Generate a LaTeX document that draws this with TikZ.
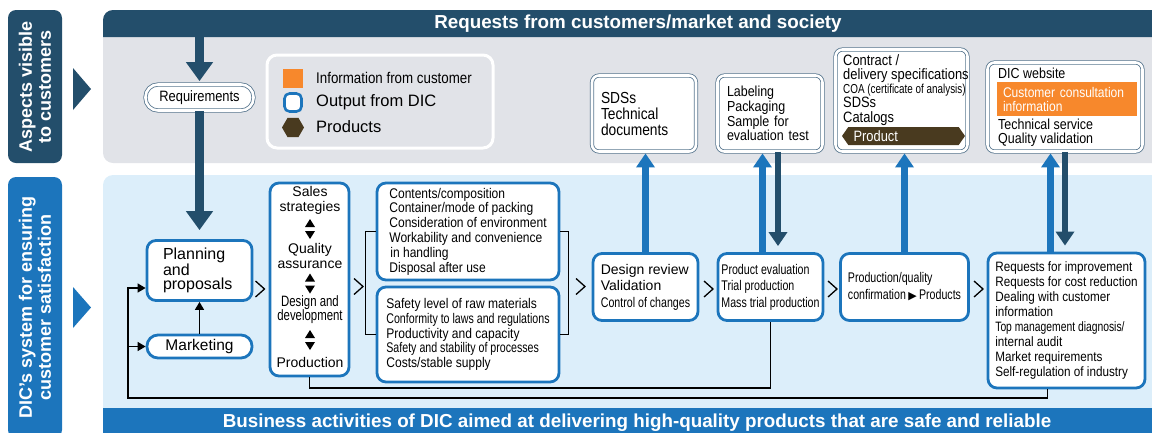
\documentclass[tikz,border=0pt]{standalone}
\usepackage{fontspec}
\setmainfont{Liberation Sans}
\newfontfamily\cond{Liberation Sans}[FakeStretch=0.86]
\newfontfamily\xcond{Liberation Sans}[FakeStretch=0.76]
\newfontfamily\symf{DejaVu Sans}
\usepackage{tikz}
\usetikzlibrary{arrows.meta,shapes.geometric,shapes.symbols}
\definecolor{navyc}{HTML}{234E6B}
\definecolor{mainc}{HTML}{1C75BC}
\definecolor{softbg}{HTML}{DCEEFA}
\definecolor{greybg}{HTML}{E1E3E8}
\definecolor{orangec}{HTML}{F7882C}
\definecolor{brownc}{HTML}{493A1F}
\definecolor{edgec}{HTML}{5A7890}
\tikzset{
  obox/.style={draw=mainc,line width=2.8pt,rounded corners=9pt,fill=white,inner sep=0pt,align=left},
  dblbox/.style={draw=edgec,line width=0.8pt,double=white,double distance=2.6pt,rounded corners=7pt,fill=white,inner sep=0pt,align=left},
  uparr/.style={-{Triangle[width=18pt,length=14pt]},line width=6.5pt,mainc,shorten >=1.5pt},
  dnarr/.style={-{Triangle[width=18pt,length=14pt]},line width=6.5pt,navyc,shorten >=6pt},
  bigarr/.style={-{Triangle[width=26pt,length=19pt]},line width=9pt,navyc},
  fbline/.style={line width=1.4pt,black},
  fbarr/.style={fbline,-{Triangle[width=9pt,length=8pt]}},
  chev/.style={line width=1.3pt,black},
  sidebox/.style={rounded corners=8pt,text=white,font=\bfseries\fontsize{18}{19}\selectfont,align=center,inner sep=0pt},
  lbl/.style={align=center,inner sep=0pt,font=\fontsize{14}{14.5}\selectfont}
}
\begin{document}
\begin{tikzpicture}[x=1pt,y=-1pt]
\useasboundingbox (0,0) rectangle (1152,432);
\fill[greybg,rounded corners=10pt] (103,10) rectangle (1170,163);
\fill[navyc] (103,37) [rounded corners=10pt] -- (103,10) -- (1170,10) [sharp corners] -- (1170,37) -- cycle;
\fill[softbg,rounded corners=10pt] (103,175) rectangle (1170,445);
\fill[mainc] (103,408) rectangle (1170,445);
\node[text=white,font=\bfseries\fontsize{18.8}{20}\selectfont] (hdtxt) at (638,24) {Requests from customers/market and society};
\node[text=white,anchor=base,font=\bfseries\fontsize{18.8}{20}\selectfont] (bottxt) at (637,427.5) {Business activities of DIC aimed at delivering high-quality products that are safe and reliable};

\node[sidebox,fill=navyc,minimum width=153,minimum height=54,rotate=90] (vis) at (35,86.5) {Aspects visible\\to customers};
\node[sidebox,fill=mainc,minimum width=261,minimum height=54,rotate=90] (sys) at (35,307.5) {DIC’s system for ensuring\\customer satisfaction};
\fill[navyc] (73,68) -- (91,89) -- (73,110) -- cycle;
\fill[mainc] (73,287) -- (91,307.5) -- (73,328) -- cycle;

\node[draw=white,line width=3pt,rounded corners=10pt,fill=greybg,minimum width=226,minimum height=93] (legend) at (380,101.5) {};
\node[fill=orangec,minimum width=20,minimum height=19,inner sep=0pt] (lgo) at (293,78.5) {};
\node[draw=mainc,line width=2.6pt,fill=white,rounded corners=5pt,minimum width=17,minimum height=18,inner sep=0pt] (lgb) at (293,102.5) {};
\node[regular polygon,regular polygon sides=6,fill=brownc,minimum size=22,inner sep=0pt] (lgh) at (293,127.5) {};
\node[anchor=west,inner sep=0pt,font=\cond\fontsize{15.5}{16}\selectfont] (lgot) at (316,77.5) {Information from customer};
\node[anchor=west,inner sep=0pt,font=\fontsize{16.5}{18}\selectfont] (lgbt) at (316,102) {Output from DIC};
\node[anchor=west,inner sep=0pt,font=\fontsize{16.5}{18}\selectfont] (lght) at (316,127) {Products};

\node[dblbox,rounded corners=12.5pt,minimum width=108,minimum height=26,align=center,font=\cond\fontsize{15}{16}\selectfont] (reqs) at (199.5,97.5) {Requirements};

\node[dblbox,minimum width=104,minimum height=76,text width=86,font=\cond\fontsize{16}{16}\selectfont] (sds) at (644,113.5) {SDSs\\Technical\\documents};
\node[dblbox,minimum width=105,minimum height=76,text width=86,font=\cond\fontsize{14.5}{14.7}\selectfont] (lab) at (770,113.5) {Labeling\\Packaging\\Sample for\\evaluation test};
\node[dblbox,minimum width=132,minimum height=102] (ctr) at (901.5,100.5) {};
\node[anchor=north west,inner sep=0pt,align=left,font=\cond\fontsize{15}{14.3}\selectfont] (ctrt) at (843,54) {Contract /\\delivery specifications\\{\xcond\fontsize{13}{14.3}\selectfont COA (certificate of analysis)}\\SDSs\\Catalogs};
\node[signal,signal to=west and east,signal pointer angle=110,fill=brownc,text=white,minimum width=123,minimum height=18,inner sep=0pt,text width=100,align=left,font=\cond\fontsize{15}{15}\selectfont] (prod) at (903.5,136) {Product};
\node[dblbox,minimum width=155,minimum height=89] (web) at (1065,107) {};
\node[anchor=base west,inner sep=0pt,font=\cond\fontsize{14.5}{15}\selectfont] (webt) at (998,78) {DIC website};
\node[fill=orangec,minimum width=140,minimum height=34,inner sep=0pt,text width=128,align=left,text=white,font=\cond\fontsize{14}{14}\selectfont] (consult) at (1067,99) {Customer consultation\\information};
\node[anchor=north west,inner sep=0pt,align=left,font=\cond\fontsize{14.5}{14}\selectfont] (webs) at (998,119) {Technical service\\Quality validation};

\node[obox,minimum width=105,minimum height=60,text width=73,font=\fontsize{16}{14}\selectfont] (plan) at (199.5,270.5) {Planning\\and\\proposals};
\node[obox,rounded corners=11pt,minimum width=105,minimum height=23,font=\fontsize{15.5}{16}\selectfont] (mkt) at (199.5,346.5) {Marketing};
\node[obox,minimum width=79,minimum height=193] (sales) at (309.5,279.5) {};
\node[lbl] (s1) at (310,200.5) {Sales\\strategies};
\node[lbl] (s2) at (310,256) {Quality\\assurance};
\node[lbl,font=\xcond\fontsize{15}{14}\selectfont] (s3) at (310,310) {Design and\\development};
\node[lbl] (s4) at (310,362) {Production};
\foreach \yy in {229,283.5,340}{
  \fill (310,\yy-2) -- ++(-5,0) -- ++(5,-8) -- ++(5,8) -- cycle;
  \fill (310,\yy+2) -- ++(-5,0) -- ++(5,8) -- ++(5,-8) -- cycle;
}
\node[obox,minimum width=182,minimum height=97,font=\cond\fontsize{14}{14.8}\selectfont] (cont) at (468,231.5) {Contents/composition\\Container/mode of packing\\Consideration of environment\\Workability and convenience\\\hspace{1pt}in handling\\Disposal after use};
\node[obox,minimum width=182,minimum height=95,font=\cond\fontsize{14}{14.8}\selectfont] (safe) at (468,334.5) {Safety level of raw materials\\{\xcond Conformity to laws and regulations}\\Productivity and capacity\\{\xcond Safety and stability of processes}\\Costs/stable supply};
\node[obox,minimum width=105,minimum height=67,font=\fontsize{14}{16.5}\selectfont] (drev) at (645.5,287) {Design review\\Validation\\{\xcond Control of changes}};
\node[obox,minimum width=105,minimum height=67,font=\xcond\fontsize{14}{16.5}\selectfont] (peval) at (770.5,287) {Product evaluation\\Trial production\\Mass trial production};
\node[obox,minimum width=128,minimum height=67,font=\xcond\fontsize{14}{17}\selectfont] (pconf) at (904.5,287) {Production/quality\\confirmation\,{\symf\fontsize{11}{11}\selectfont ▶}\,Products};
\node[obox,minimum width=157,minimum height=135,font=\cond\fontsize{13.6}{15}\selectfont] (reqb) at (1066.5,320.5) {Requests for improvement\\Requests for cost reduction\\Dealing with customer\\information\\{\xcond Top management diagnosis/}\\internal audit\\Market requirements\\Self-regulation of industry};

\foreach \cx/\cy in {260/289,358.5/286.5,580.5/286.5,708.5/289,832.5/289,978.5/289}
  \draw[chev] (\cx-4.5,\cy-8) -- (\cx+4.5,\cy) -- (\cx-4.5,\cy+8);
\draw[fbline] (cont.west) -- ++(-10,0) |- (safe.west);
\draw[fbline] (cont.east) -- ++(8,0) |- (safe.east);

\coordinate (hd) at (199.5,37);
\draw[bigarr,shorten >=3pt] (hd) -- (reqs.north);
\draw[bigarr,shorten >=9pt] (reqs.south) -- (plan.north);
\draw[uparr] (drev.north) -- (drev.north |- sds.south);
\draw[uparr] ([xshift=-8pt]peval.north) -- ([xshift=-8pt]peval.north |- lab.south);
\draw[dnarr] ([xshift=8pt]lab.south) -- ([xshift=8pt]lab.south |- peval.north);
\draw[uparr] (pconf.north) -- (pconf.north |- ctr.south);
\draw[uparr] ([xshift=-16pt]reqb.north) -- ([xshift=-16pt]reqb.north |- web.south);
\draw[dnarr] (web.south) -- (web.south |- reqb.north);

\draw[fbarr] (mkt.north) -- (plan.south);
\draw[fbline] (sales.south) -- ++(0,10.5) -| (peval.south);
\coordinate (fbc) at (128,398);
\draw[fbarr] ([xshift=-19pt]reqb.south) |- (fbc) |- ([yshift=-17.5pt]plan.west);
\draw[fbarr] (fbc |- mkt.west) -- (mkt.west);
\end{tikzpicture}
\end{document}
